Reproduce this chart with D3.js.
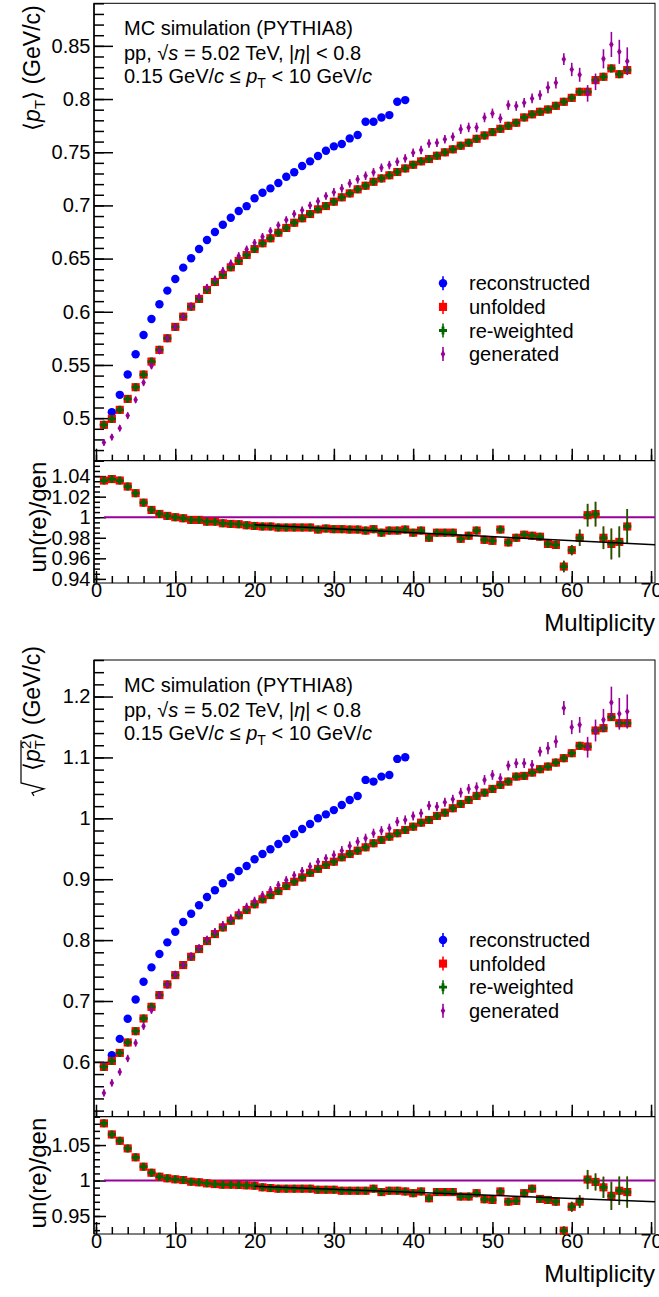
<!DOCTYPE html>
<html>
<head>
<meta charset="utf-8">
<script src="https://cdn.jsdelivr.net/npm/d3@7"></script>
<style>
  body { margin: 0; background: #fff; }
  svg text { font-family: "Liberation Sans", Arial, Helvetica, sans-serif; fill: #000; }
</style>
</head>
<body>
<div id="chart"></div>
<script>
// ==========================================
// <pT> and sqrt(<pT^2>) vs multiplicity, MC closure (PYTHIA8)
// ==========================================

// 1. DATA
const mult = [1, 2, 3, 4, 5, 6, 7, 8, 9, 10, 11, 12, 13, 14, 15, 16, 17, 18, 19, 20,
  21, 22, 23, 24, 25, 26, 27, 28, 29, 30, 31, 32, 33, 34, 35, 36, 37, 38, 39, 40,
  41, 42, 43, 44, 45, 46, 47, 48, 49, 50, 51, 52, 53, 54, 55, 56, 57, 58, 59, 60,
  61, 62, 63, 64, 65, 66, 67];

// <pT> (GeV/c)
const meanRec = [0.4937, 0.5056, 0.5219, 0.541, 0.5601, 0.5782, 0.5933, 0.6071, 0.6199, 0.6308,
  0.6415, 0.6503, 0.659, 0.6675, 0.675, 0.6819, 0.6884, 0.6947, 0.6993, 0.7067,
  0.7119, 0.716, 0.721, 0.727, 0.7311, 0.737, 0.7414, 0.7464, 0.7514, 0.7555,
  0.7577, 0.763, 0.7661, 0.7786, 0.7786, 0.7827, 0.7849, 0.7974, 0.799];
const meanUnf = [0.4937, 0.4993, 0.5078, 0.5181, 0.5291, 0.541, 0.5532, 0.5642, 0.5751, 0.5858,
  0.5954, 0.6048, 0.6121, 0.6205, 0.628, 0.6346, 0.6418, 0.6478, 0.6534, 0.659,
  0.6644, 0.6691, 0.6743, 0.6788, 0.6837, 0.6879, 0.6919, 0.6963, 0.6994, 0.7035,
  0.7076, 0.7113, 0.7151, 0.7185, 0.7222, 0.7254, 0.7283, 0.7314, 0.7348, 0.7382,
  0.7414, 0.7436, 0.7467, 0.7499, 0.7527, 0.7561, 0.7589, 0.7626, 0.7658, 0.7689,
  0.772, 0.7748, 0.7777, 0.7827, 0.7856, 0.788, 0.7902, 0.7936, 0.7974, 0.8011,
  0.8068, 0.8068, 0.8178, 0.8209, 0.8288, 0.8234, 0.8272];
const meanRew = [0.4937, 0.4993, 0.5078, 0.5181, 0.5291, 0.541, 0.5532, 0.5642, 0.5751, 0.5858,
  0.5954, 0.6048, 0.6121, 0.6205, 0.628, 0.6346, 0.6418, 0.6478, 0.6534, 0.659,
  0.6644, 0.6691, 0.6743, 0.6788, 0.6837, 0.6879, 0.6919, 0.6963, 0.6994, 0.7035,
  0.7076, 0.7113, 0.7151, 0.7185, 0.7222, 0.7254, 0.7283, 0.7314, 0.7348, 0.7382,
  0.7414, 0.7436, 0.7467, 0.7499, 0.7527, 0.7561, 0.7589, 0.7626, 0.7658, 0.7689,
  0.772, 0.7748, 0.7777, 0.7827, 0.7856, 0.788, 0.7902, 0.7936, 0.7974, 0.8011,
  0.8068, 0.8068, 0.8178, 0.8209, 0.8288, 0.8234, 0.8272];
const meanGen = [0.4771, 0.4822, 0.4906, 0.5024, 0.5172, 0.5334, 0.5491, 0.5632, 0.5751, 0.5858,
  0.5954, 0.6055, 0.6142, 0.623, 0.6308, 0.6386, 0.6456, 0.6525, 0.6587, 0.6649,
  0.6706, 0.6759, 0.6813, 0.6863, 0.692, 0.6954, 0.7, 0.704, 0.7088, 0.7123,
  0.716, 0.7207, 0.7245, 0.7279, 0.7311, 0.7354, 0.7379, 0.741, 0.7442, 0.7495,
  0.752, 0.7583, 0.7589, 0.7621, 0.7645, 0.7717, 0.7733, 0.7733, 0.7827, 0.7865,
  0.7818, 0.7943, 0.7934, 0.7965, 0.8006, 0.8037, 0.8109, 0.8153, 0.8375, 0.8278,
  0.8228, 0.8053, 0.8162, 0.8378, 0.8513, 0.8444, 0.8356];
const meanGenErr = [0.003, 0.003, 0.003, 0.003, 0.003, 0.003, 0.003, 0.003, 0.003, 0.003,
  0.003, 0.003, 0.003, 0.003, 0.003, 0.0035, 0.0035, 0.0035, 0.0035, 0.0035,
  0.0035, 0.0035, 0.0035, 0.0035, 0.0035, 0.0035, 0.0035, 0.0035, 0.0035, 0.004,
  0.004, 0.004, 0.004, 0.004, 0.004, 0.004, 0.004, 0.004, 0.004, 0.004,
  0.004, 0.004, 0.004, 0.004, 0.004, 0.0045, 0.0045, 0.0045, 0.0045, 0.0045,
  0.0045, 0.0045, 0.0045, 0.0045, 0.0045, 0.0045, 0.0055, 0.0055, 0.0055, 0.0063,
  0.0066, 0.0078, 0.0078, 0.009, 0.0118, 0.0113, 0.013];
const ratioMean = [1.0357, 1.0371, 1.0357, 1.0299, 1.0234, 1.0142, 1.0071, 1.0032, 1.0013, 1.0,
  0.999, 0.9974, 0.9974, 0.9957, 0.9957, 0.9941, 0.9935, 0.9932, 0.9922, 0.9915,
  0.991, 0.991, 0.990, 0.990, 0.990, 0.990, 0.990, 0.988, 0.989, 0.9884,
  0.9884, 0.988, 0.988, 0.987, 0.9884, 0.985, 0.987, 0.987, 0.988, 0.985,
  0.987, 0.980, 0.985, 0.985, 0.985, 0.979, 0.982, 0.987, 0.978, 0.977,
  0.988, 0.9755, 0.980, 0.983, 0.982, 0.981, 0.974, 0.973, 0.952, 0.968,
  0.980, 1.002, 1.003, 0.980, 0.974, 0.976, 0.991];
const ratioMeanErr = [0.001, 0.001, 0.001, 0.001, 0.001, 0.001, 0.001, 0.001, 0.001, 0.001,
  0.001, 0.001, 0.001, 0.001, 0.001, 0.001, 0.001, 0.001, 0.001, 0.001,
  0.001, 0.001, 0.001, 0.001, 0.001, 0.001, 0.001, 0.001, 0.001, 0.001,
  0.001, 0.001, 0.001, 0.001, 0.001, 0.001, 0.001, 0.001, 0.001, 0.001,
  0.001, 0.001, 0.001, 0.001, 0.001, 0.001, 0.001, 0.001, 0.001, 0.001,
  0.003, 0.003, 0.003, 0.003, 0.003, 0.003, 0.004, 0.004, 0.0056, 0.005,
  0.008, 0.011, 0.012, 0.011, 0.015, 0.015, 0.017];
const meanFitX = [20, 70.5];
const meanFitY = [0.9926, 0.9732];

// sqrt(<pT^2>) (GeV/c)
const rmsRec = [0.593, 0.611, 0.6378, 0.6707, 0.7026, 0.7315, 0.7552, 0.7771, 0.7963, 0.8137,
  0.8297, 0.8433, 0.8571, 0.8708, 0.882, 0.8933, 0.9031, 0.9135, 0.9217, 0.9327,
  0.9414, 0.9492, 0.9579, 0.9661, 0.9743, 0.9825, 0.9908, 1.0001, 1.0065, 1.0135,
  1.022, 1.0302, 1.0368, 1.0631, 1.0603, 1.0685, 1.0713, 1.0976, 1.1004];
const rmsUnf = [0.5918, 0.6016, 0.6148, 0.6319, 0.6505, 0.6713, 0.6904, 0.7097, 0.7272, 0.7425,
  0.759, 0.7726, 0.7853, 0.7984, 0.8099, 0.8209, 0.8318, 0.8407, 0.8494, 0.8588,
  0.867, 0.874, 0.8806, 0.8888, 0.8959, 0.903, 0.9105, 0.917, 0.9235, 0.9288,
  0.936, 0.9414, 0.9469, 0.9524, 0.959, 0.9645, 0.9699, 0.9755, 0.9809, 0.9863,
  0.9929, 0.9973, 1.0039, 1.0093, 1.0166, 1.0236, 1.0302, 1.0368, 1.0422, 1.0483,
  1.0549, 1.0603, 1.0685, 1.0697, 1.0751, 1.0807, 1.085, 1.0915, 1.0988, 1.107,
  1.119, 1.1178, 1.1442, 1.1481, 1.1662, 1.1563, 1.1563];
const rmsRew = [0.5918, 0.6016, 0.6148, 0.6319, 0.6505, 0.6713, 0.6904, 0.7097, 0.7272, 0.7425,
  0.759, 0.7726, 0.7853, 0.7984, 0.8099, 0.8209, 0.8318, 0.8407, 0.8494, 0.8588,
  0.867, 0.874, 0.8806, 0.8888, 0.8959, 0.903, 0.9105, 0.917, 0.9235, 0.9288,
  0.936, 0.9414, 0.9469, 0.9524, 0.959, 0.9645, 0.9699, 0.9755, 0.9809, 0.9863,
  0.9929, 0.9973, 1.0039, 1.0093, 1.0166, 1.0236, 1.0302, 1.0368, 1.0422, 1.0483,
  1.0549, 1.0603, 1.0685, 1.0697, 1.0751, 1.0807, 1.085, 1.0915, 1.0988, 1.107,
  1.119, 1.1178, 1.1442, 1.1481, 1.1662, 1.1563, 1.1563];
const rmsGen = [0.549, 0.5655, 0.5836, 0.6056, 0.6312, 0.6587, 0.685, 0.7097, 0.7272, 0.7437,
  0.759, 0.7738, 0.7874, 0.8012, 0.8137, 0.8247, 0.8357, 0.845, 0.8548, 0.8647,
  0.874, 0.8823, 0.8905, 0.8985, 0.9065, 0.9135, 0.921, 0.9285, 0.9345, 0.9398,
  0.9469, 0.9546, 0.9617, 0.9672, 0.9755, 0.9797, 0.9837, 0.9945, 0.9973, 1.0039,
  1.0083, 1.0208, 1.0192, 1.0264, 1.0314, 1.0422, 1.0483, 1.0511, 1.0631, 1.0713,
  1.0659, 1.0866, 1.0905, 1.0905, 1.0877, 1.1096, 1.1152, 1.1261, 1.181, 1.1497,
  1.1535, 1.1168, 1.1442, 1.1617, 1.1902, 1.1716, 1.1754];
const rmsGenErr = [0.006, 0.006, 0.006, 0.006, 0.006, 0.006, 0.006, 0.006, 0.006, 0.006,
  0.006, 0.006, 0.006, 0.006, 0.006, 0.0065, 0.0065, 0.0065, 0.0065, 0.0065,
  0.0065, 0.0065, 0.0065, 0.0065, 0.0065, 0.0065, 0.0065, 0.0065, 0.0065, 0.0075,
  0.0075, 0.0075, 0.0075, 0.0075, 0.0075, 0.0075, 0.0075, 0.0075, 0.0075, 0.0075,
  0.0075, 0.0075, 0.0075, 0.0075, 0.0075, 0.008, 0.008, 0.008, 0.008, 0.008,
  0.008, 0.008, 0.008, 0.008, 0.008, 0.008, 0.01, 0.01, 0.0115, 0.0115,
  0.013, 0.017, 0.018, 0.018, 0.026, 0.026, 0.028];
const ratioRms = [1.0806, 1.065, 1.056, 1.0453, 1.0327, 1.0195, 1.011, 1.0054, 1.0031, 1.0017,
  1.0007, 0.9983, 0.9975, 0.996, 0.995, 0.9941, 0.9941, 0.9937, 0.9932, 0.9927,
  0.9904, 0.9894, 0.9885, 0.9885, 0.9885, 0.9885, 0.9885, 0.987, 0.987, 0.987,
  0.9856, 0.9856, 0.9856, 0.9856, 0.9885, 0.9837, 0.9856, 0.9856, 0.9846, 0.9822,
  0.9846, 0.975, 0.9837, 0.9837, 0.9837, 0.9774, 0.9774, 0.9822, 0.9736, 0.9726,
  0.9846, 0.9702, 0.9712, 0.9822, 0.9885, 0.974, 0.9726, 0.9702, 0.9293, 0.963,
  0.9702, 1.0014, 0.998, 0.9904, 0.9784, 0.9856, 0.9837];
const ratioRmsErr = [0.0015, 0.0015, 0.0015, 0.0015, 0.0015, 0.0015, 0.0015, 0.0015, 0.0015, 0.0015,
  0.0015, 0.0015, 0.0015, 0.0015, 0.0015, 0.0015, 0.0015, 0.0015, 0.0015, 0.0015,
  0.0015, 0.0015, 0.0015, 0.0015, 0.0015, 0.0015, 0.0015, 0.0015, 0.0015, 0.0015,
  0.0015, 0.0015, 0.0015, 0.0015, 0.0015, 0.0015, 0.0015, 0.0015, 0.0015, 0.0015,
  0.0015, 0.0015, 0.0015, 0.0015, 0.0015, 0.0015, 0.0015, 0.0015, 0.0015, 0.0015,
  0.004, 0.004, 0.004, 0.004, 0.004, 0.004, 0.005, 0.005, 0.006, 0.007,
  0.009, 0.0135, 0.012, 0.015, 0.02, 0.02, 0.022];
const rmsFitX = [20, 70.5];
const rmsFitY = [0.9918, 0.9702];

// unity reference line in the ratio pads
const unityX = [1, 70.5];
const unityY = [1, 1];

// tick labels
const xTicks = [0, 10, 20, 30, 40, 50, 60, 70];
const meanTicks = [0.5, 0.55, 0.6, 0.65, 0.7, 0.75, 0.8, 0.85];
const ratioMeanTicks = [0.94, 0.96, 0.98, 1, 1.02, 1.04];
const rmsTicks = [0.6, 0.7, 0.8, 0.9, 1, 1.1, 1.2];
const ratioRmsTicks = [0.95, 1, 1.05];

const legendLabels = ["reconstructed", "unfolded", "re-weighted", "generated"];

// 2. SETUP
const W = 659, H = 1297;
const svg = d3.select("#chart").append("svg")
    .attr("width", W)
    .attr("height", H);

const FRAME_L = 94, FRAME_R = 655;
const x = d3.scaleLinear().domain([-0.25, 70.5]).range([FRAME_L, FRAME_R]);

const colors = { rec: "#0000ff", unf: "#ff0000", rew: "#006600", gen: "#990099" };

// ROOT-like markers
const circle = d3.symbol(d3.symbolCircle, 56)();
const square = d3.symbol(d3.symbolSquare, 66)();
const cross = "M-1.4,-4H1.4V-1.4H4V1.4H1.4V4H-1.4V1.4H-4V-1.4H-1.4Z";
const diamond = "M0,-3.8L2.3,0L0,3.8L-2.3,0Z";

const fmt = d => String(+d.toFixed(3));

function markers(g, ys, y, shape, color) {
    g.append("g").selectAll("path")
        .data(ys)
        .join("path")
        .attr("transform", (d, i) => `translate(${x(mult[i])},${y(d)})`)
        .attr("d", shape)
        .attr("fill", color);
}

function errBars(g, ys, errs, y, color, w) {
    g.append("g").selectAll("line")
        .data(ys)
        .join("line")
        .attr("x1", (d, i) => x(mult[i]))
        .attr("x2", (d, i) => x(mult[i]))
        .attr("y1", (d, i) => y(d - errs[i]))
        .attr("y2", (d, i) => y(d + errs[i]))
        .attr("stroke", color)
        .attr("stroke-width", w);
}

function styleAxis(g, fontSize) {
    g.select(".domain").remove();
    g.selectAll(".tick line").attr("stroke", "#000").attr("stroke-width", 1.5);
    g.selectAll(".tick text")
        .style("font-size", fontSize + "px")
        .style("font-family", '"Liberation Sans", Arial, sans-serif')
        .attr("fill", "#000");
}

function yAxis(y, majors, minors, majLen, minLen) {
    const gMin = svg.append("g")
        .attr("transform", `translate(${FRAME_L},0)`)
        .call(d3.axisLeft(y).tickValues(minors).tickSize(-minLen).tickFormat(""));
    styleAxis(gMin, 20);
    const gMaj = svg.append("g")
        .attr("transform", `translate(${FRAME_L},0)`)
        .call(d3.axisLeft(y).tickValues(majors).tickSize(-majLen).tickPadding(3.5).tickFormat(fmt));
    styleAxis(gMaj, 20);
}

function xAxis(yPos, withLabels, majLen, minLen) {
    const minors = d3.range(0, 71, 2);
    const gMin = svg.append("g")
        .attr("transform", `translate(0,${yPos})`)
        .call(d3.axisBottom(x).tickValues(minors).tickSize(-minLen).tickFormat(""));
    styleAxis(gMin, 20);
    const gMaj = svg.append("g")
        .attr("transform", `translate(0,${yPos})`)
        .call(d3.axisBottom(x).tickValues(xTicks).tickSize(-majLen).tickPadding(0)
            .tickFormat(withLabels ? d3.format("d") : ""));
    styleAxis(gMaj, 20);
}

// 3. PANELS
const panels = [
    {
        top: 3.3, mid: 460.7, bottom: 583,
        mainDomain: [0.46, 0.89], ratioDomain: [0.936, 1.055],
        mainTicks: meanTicks, mainMinors: d3.range(46, 90).map(v => v / 100),
        ratioTicks: ratioMeanTicks, ratioMinors: d3.range(188, 212).map(v => v * 0.005),
        rec: meanRec, unf: meanUnf, rew: meanRew, gen: meanGen, genErr: meanGenErr,
        ratio: ratioMean, ratioErr: ratioMeanErr, fitX: meanFitX, fitY: meanFitY,
        rms: false
    },
    {
        top: 660, mid: 1116.7, bottom: 1234,
        mainDomain: [0.51, 1.26], ratioDomain: [0.9246, 1.09],
        mainTicks: rmsTicks, mainMinors: d3.range(26, 64).map(v => v * 0.02),
        ratioTicks: ratioRmsTicks, ratioMinors: d3.range(93, 110).map(v => v / 100),
        rec: rmsRec, unf: rmsUnf, rew: rmsRew, gen: rmsGen, genErr: rmsGenErr,
        ratio: ratioRms, ratioErr: ratioRmsErr, fitX: rmsFitX, fitY: rmsFitY,
        rms: true
    }
];

panels.forEach(p => {
    const yM = d3.scaleLinear().domain(p.mainDomain).range([p.mid, p.top]);
    const yR = d3.scaleLinear().domain(p.ratioDomain).range([p.bottom, p.mid]);

    // frame
    svg.append("rect")
        .attr("x", FRAME_L).attr("y", p.top)
        .attr("width", FRAME_R - FRAME_L).attr("height", p.bottom - p.top)
        .attr("fill", "none").attr("stroke", "#000").attr("stroke-width", 1);
    svg.append("line")
        .attr("x1", FRAME_L).attr("x2", FRAME_R)
        .attr("y1", p.mid).attr("y2", p.mid)
        .attr("stroke", "#000").attr("stroke-width", 1.2);
    svg.append("line")
        .attr("x1", FRAME_L).attr("x2", FRAME_L)
        .attr("y1", p.top).attr("y2", p.bottom)
        .attr("stroke", "#000").attr("stroke-width", 1.5);

    // axes
    yAxis(yM, p.mainTicks, p.mainMinors, 19, 10);
    yAxis(yR, p.ratioTicks, p.ratioMinors, 12, 6);
    xAxis(p.mid, false, 12, 6);
    xAxis(p.bottom, true, 12, 7);

    // main pad points
    const g = svg.append("g");
    markers(g, p.rec, yM, circle, colors.rec);
    markers(g, p.unf, yM, square, colors.unf);
    markers(g, p.rew, yM, cross, colors.rew);
    errBars(g, p.gen, p.genErr, yM, colors.gen, 1.6);
    markers(g, p.gen, yM, diamond, colors.gen);

    // ratio pad
    const line = d3.line().x(d => x(d[0])).y(d => yR(d[1]));
    g.append("path")
        .attr("d", line(unityX.map((v, i) => [v, unityY[i]])))
        .attr("stroke", colors.gen).attr("stroke-width", 2).attr("fill", "none");
    errBars(g, p.ratio, p.ratioErr, yR, colors.unf, 1.6);
    markers(g, p.ratio, yR, square, colors.unf);
    errBars(g, p.ratio, p.ratioErr, yR, colors.rew, 1.6);
    markers(g, p.ratio, yR, cross, colors.rew);
    g.append("path")
        .attr("d", line(p.fitX.map((v, i) => [v, p.fitY[i]])))
        .attr("stroke", "#000").attr("stroke-width", 1.5).attr("fill", "none");

    // annotation
    const ann = svg.append("g").style("font-size", "20px");
    const l1 = ann.append("text").attr("x", 124).attr("y", p.top + 31.7);
    l1.text("MC simulation (PYTHIA8)");
    const l2 = ann.append("text").attr("x", 124).attr("y", p.top + 56.5);
    l2.append("tspan").text("pp, \u221A");
    l2.append("tspan").style("font-style", "italic").text("s");
    l2.append("tspan").text(" = 5.02 TeV, |");
    l2.append("tspan").style("font-style", "italic").text("\u03B7");
    l2.append("tspan").text("| < 0.8");
    const l3 = ann.append("text").attr("x", 124).attr("y", p.top + 80);
    l3.append("tspan").text("0.15 GeV/");
    l3.append("tspan").style("font-style", "italic").text("c");
    l3.append("tspan").text(" \u2264 ");
    l3.append("tspan").style("font-style", "italic").text("p");
    l3.append("tspan").attr("dy", 5).style("font-size", "14px").text("T");
    l3.append("tspan").attr("dy", -5).text(" < 10 GeV/");
    l3.append("tspan").style("font-style", "italic").text("c");

    // legend
    const legShapes = [circle, square, cross, diamond];
    const legColors = [colors.rec, colors.unf, colors.rew, colors.gen];
    const leg = svg.append("g").attr("transform", `translate(443,${p.top + 280})`);
    legendLabels.forEach((lab, i) => {
        const row = leg.append("g").attr("transform", `translate(0,${i * 23.6})`);
        row.append("line").attr("y1", -7).attr("y2", 7)
            .attr("stroke", legColors[i]).attr("stroke-width", 1.6);
        row.append("path").attr("d", legShapes[i]).attr("fill", legColors[i]);
        row.append("text").attr("x", 26).attr("y", 7).style("font-size", "20px").text(lab);
    });

    // x title
    svg.append("text")
        .attr("x", 655).attr("y", p.bottom + 48)
        .attr("text-anchor", "end")
        .style("font-size", "24px")
        .text("Multiplicity");

    // ratio y title
    svg.append("text")
        .attr("transform", `translate(46,${p.mid + 1}) rotate(-90)`)
        .attr("text-anchor", "end")
        .style("font-size", "24px")
        .text("un(re)/gen");

    // main y title
    const yt = svg.append("text")
        .attr("transform", `translate(40,${p.top + 2}) rotate(-90)`)
        .attr("text-anchor", "end")
        .style("font-size", "23px");
    if (!p.rms) {
        yt.append("tspan").text("\u27E8");
        yt.append("tspan").style("font-style", "italic").text("p");
        yt.append("tspan").attr("dy", 5).style("font-size", "15px").text("T");
        yt.append("tspan").attr("dy", -5).text("\u27E9 (GeV/c)");
    } else {
        yt.append("tspan").attr("dx", 16).text("\u27E8");
        yt.append("tspan").style("font-style", "italic").text("p");
        yt.append("tspan").attr("dy", 5).style("font-size", "15px").text("T");
        yt.append("tspan").attr("dx", -9).attr("dy", -14).style("font-size", "15px").text("2");
        yt.append("tspan").attr("dy", 9).text("\u27E9 (GeV/c)");
        // radical sign drawn in the rotated frame, before the text start
        const len = yt.node().getComputedTextLength();
        const s = -len;
        const tail = svg.append("text").style("font-size", "23px").attr("visibility", "hidden")
            .text("\u27E8p");
        const bw = tail.node().getComputedTextLength() + 18;
        tail.remove();
        svg.append("path")
            .attr("transform", `translate(40,${p.top + 2}) rotate(-90)`)
            .attr("d", `M${s},-6L${s + 3},-8L${s + 7},4L${s + 13},-19L${s + 16 + bw},-19`)
            .attr("fill", "none").attr("stroke", "#000").attr("stroke-width", 1.2);
    }
});
</script>
</body>
</html>
